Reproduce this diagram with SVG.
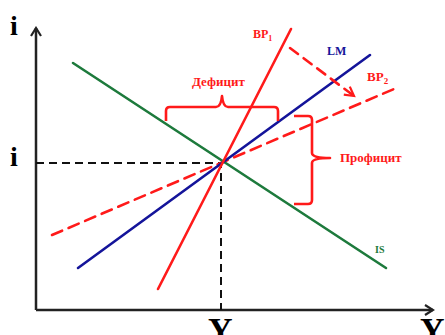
<svg xmlns="http://www.w3.org/2000/svg" width="445" height="335" viewBox="0 0 445 335">
<defs>
<style>
.t{font-family:"Liberation Serif","Times New Roman",serif;font-weight:bold}
.red{fill:#ff1a1a}
.ax{stroke:#222;stroke-width:2.5;fill:none}
.guide{stroke:#111;stroke-width:2;stroke-dasharray:8 5;fill:none}
.ln{stroke-width:2.6;fill:none;stroke-linecap:round}
.brace{stroke:#ff1a1a;stroke-width:2.6;fill:none;stroke-linejoin:round}
</style>
<marker id="ah" markerWidth="12" markerHeight="12" refX="10" refY="6" orient="auto" markerUnits="userSpaceOnUse">
<path d="M2,1 L10,6 L2,11" fill="none" stroke="#222" stroke-width="2.2"/>
</marker>
<marker id="rh" markerWidth="14" markerHeight="14" refX="11" refY="7" orient="auto" markerUnits="userSpaceOnUse">
<path d="M2,2 L11,7 L2,12" fill="none" stroke="#ff1a1a" stroke-width="2.2"/>
</marker>
</defs>
<rect width="445" height="335" fill="#fff"/>
<g id="axes">
<path class="ax" d="M36,310 L36,28" marker-end="url(#ah)"/>
<path class="ax" d="M36,310 L433,310" marker-end="url(#ah)"/>
<text class="t" x="10" y="35" font-size="28">i</text>
<text class="t" x="10" y="166" font-size="28">i</text>
<text class="t" x="208" y="341" font-size="34">Y</text>
<text class="t" x="420" y="341" font-size="34">Y</text>
</g>
<g id="connectors">
<path class="guide" d="M36,163 L221,163 L221,310"/>
<path class="ln" stroke="#ff1a1a" stroke-dasharray="11 7" d="M52,235 L394,89"/>
<path id="IS-line" class="ln" stroke="#1d7a3c" d="M73,63 L386,268"/>
<path id="LM-line" class="ln" stroke="#14149a" d="M78,268 L370,55"/>
<path id="BP1-line" class="ln" stroke="#ff1a1a" d="M158,289 L291,29"/>
<path class="ln" stroke="#ff1a1a" stroke-dasharray="10 7" d="M290,48 L354,96" marker-end="url(#rh)"/>
</g>
<g id="deficit">
<path class="brace" d="M166,121 L166,111 Q166,107 170,107 L216,107 Q221,107 222,96 Q223,107 228,107 L274,107 Q278,107 278,111 L278,121"/>
<text class="t red" x="192" y="86" font-size="13">Дефицит</text>
</g>
<g id="surplus">
<path class="brace" d="M294,116 L308,116 Q312,116 312,120 L312,153 Q312,158 330,158 Q312,158 312,163 L312,200 Q312,204 308,204 L294,204"/>
<text class="t red" x="340" y="162" font-size="13">Профицит</text>
</g>
<g id="labels">
<text class="t red" x="253" y="38" font-size="12">BP<tspan font-size="8" dy="3">1</tspan></text>
<text class="t" fill="#14149a" x="327" y="55" font-size="12">LM</text>
<text class="t red" x="367" y="81" font-size="13">BP<tspan font-size="9" dy="3">2</tspan></text>
<text class="t" fill="#1d7a3c" x="375" y="253" font-size="10">IS</text>
</g>
</svg>
